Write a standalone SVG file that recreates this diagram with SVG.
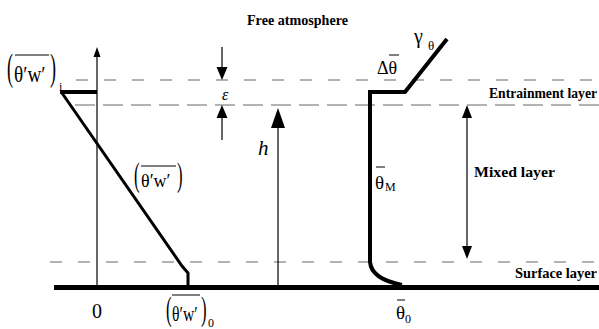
<svg xmlns="http://www.w3.org/2000/svg" width="599" height="329" viewBox="0 0 599 329">
<style>
.dot{stroke:#666;stroke-width:1;stroke-dasharray:12 16;fill:none}
.thin{stroke:#000;stroke-width:1.2;fill:none}
.prof{stroke:#000;fill:none;stroke-linejoin:miter}
text{font-family:'Liberation Serif','Times New Roman','DejaVu Serif',serif;fill:#000}
.lbl{font-weight:bold;font-size:14px}
.ov{stroke:#000;stroke-width:1}
</style>
<rect width="599" height="329" fill="#fff"/>
<g id="levels">
<line class="dot" x1="76" y1="80" x2="599" y2="80"/>
<line class="dot" x1="75" y1="105" x2="599" y2="105" style="stroke-dasharray:20 8"/>
<line class="dot" x1="50" y1="262" x2="599" y2="262"/>
<line x1="54" y1="287.5" x2="599" y2="287.5" stroke="#000" stroke-width="5"/>
</g>
<g id="connectors">
<line class="thin" x1="97" y1="287" x2="97" y2="55"/>
<polygon points="97,47 93.5,57 100.5,57"/>
<line class="thin" x1="222" y1="47" x2="222" y2="70"/>
<polygon points="222,80 216.5,67 227.5,67"/>
<line class="thin" x1="222" y1="140" x2="222" y2="115"/>
<polygon points="222,105 216.5,118 227.5,118"/>
<line class="thin" x1="278" y1="287" x2="278" y2="122"/>
<polygon points="278,108 271,128 285,128"/>
<line class="thin" x1="467" y1="112" x2="467" y2="250"/>
<polygon points="467,105 462,118 472,118"/>
<polygon points="467,259 462,246 472,246"/>
</g>
<g id="flux-profile">
<line class="prof" x1="60" y1="92" x2="97" y2="92" stroke-width="4"/>
<path class="prof" d="M62,93 L182,266 L188,273 V287" stroke-width="3"/>
</g>
<g id="theta-profile">
<path class="prof" d="M447,39 L405,92 H370 V262 C371,274 382,281 402,285" stroke-width="4"/>
</g>
<g id="labels">
<text class="lbl" x="247" y="25" textLength="101" lengthAdjust="spacingAndGlyphs" style="font-size:15px">Free atmosphere</text>
<text class="lbl" x="489" y="98" textLength="108" lengthAdjust="spacingAndGlyphs">Entrainment layer</text>
<text class="lbl" x="474" y="177" textLength="81" lengthAdjust="spacingAndGlyphs">Mixed layer</text>
<text class="lbl" x="515" y="278" textLength="82" lengthAdjust="spacingAndGlyphs">Surface layer</text>
</g>
<g id="flux-i-label">
<text transform="translate(7,80) scale(0.6,1.25)" font-size="30">(</text>
<text transform="translate(14,82) scale(0.8,1)" font-size="24">θ′w′</text>
<line class="ov" x1="15" y1="55" x2="49" y2="55"/>
<text transform="translate(50,80) scale(0.6,1.25)" font-size="30">)</text>
<text x="59" y="91" font-size="12">i</text>
</g>
<g id="flux-label">
<text transform="translate(134,186) scale(0.6,1.2)" font-size="28">(</text>
<text transform="translate(141,187) scale(0.95,1)" font-size="19">θ′w′</text>
<line class="ov" x1="141" y1="166" x2="176" y2="166"/>
<text transform="translate(177,186) scale(0.6,1.2)" font-size="28">)</text>
</g>
<g id="flux-0-label">
<text transform="translate(166,320) scale(0.6,1.2)" font-size="28">(</text>
<text transform="translate(172,321) scale(0.78,1)" font-size="20">θ′w′</text>
<line class="ov" x1="172" y1="295" x2="200" y2="295"/>
<text transform="translate(201,320) scale(0.6,1.2)" font-size="28">)</text>
<text x="208" y="327" font-size="12">0</text>
</g>
<g id="zero-label"><text x="92" y="318" font-size="20">0</text></g>
<g id="eps-label"><text x="222" y="100" font-size="16" font-style="italic">ε</text></g>
<g id="h-label"><text x="258" y="155" font-size="21" font-style="italic">h</text></g>
<g id="dtheta-label">
<text x="377" y="74" font-size="18">Δθ</text>
<line class="ov" x1="389" y1="55" x2="399" y2="55"/>
</g>
<g id="gamma-label">
<text x="414" y="43" font-size="20">γ</text>
<text x="428" y="50" font-size="13">θ</text>
</g>
<g id="thetaM-label">
<text x="375" y="189" font-size="19">θ</text>
<line class="ov" x1="376" y1="167" x2="385" y2="167"/>
<text x="385" y="191" font-size="12">M</text>
</g>
<g id="theta0-label">
<text x="396" y="319" font-size="19">θ</text>
<line class="ov" x1="397" y1="300" x2="405" y2="300"/>
<text x="405" y="323" font-size="12">0</text>
</g>
</svg>
